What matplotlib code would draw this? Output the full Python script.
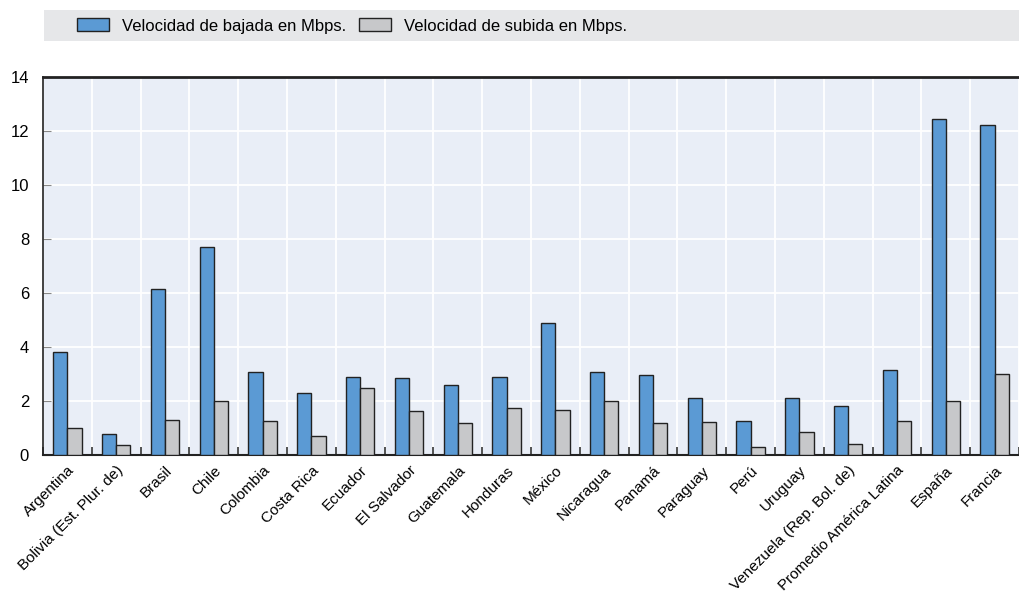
import matplotlib.pyplot as plt
import matplotlib.patches as mpatches
import numpy as np

paises = ["Argentina", "Bolivia (Est. Plur. de)", "Brasil", "Chile", "Colombia",
          "Costa Rica", "Ecuador", "El Salvador", "Guatemala", "Honduras",
          "México", "Nicaragua", "Panamá", "Paraguay", "Perú", "Uruguay",
          "Venezuela (Rep. Bol. de)", "Promedio América Latina", "España", "Francia"]
bajada = [3.82, 0.78, 6.16, 7.69, 3.08, 2.3, 2.9, 2.86, 2.6, 2.9,
          4.9, 3.08, 2.97, 2.12, 1.27, 2.12, 1.8, 3.14, 12.44, 12.22]
subida = [1.0, 0.37, 1.3, 2.0, 1.26, 0.7, 2.5, 1.63, 1.18, 1.75,
          1.67, 2.0, 1.2, 1.24, 0.3, 0.87, 0.4, 1.26, 2.0, 3.0]

plt.rcParams['font.family'] = ['Liberation Sans', 'DejaVu Sans']

azul = "#5b9ad4"
gris = "#c7c8ca"
borde = "#222222"

fig = plt.figure(figsize=(10.19, 5.94), dpi=100)
ax = fig.add_axes([43 / 1019, 1 - 455 / 594, (1019 - 43) / 1019, (455 - 77) / 594])

x = np.arange(len(paises))
w = 0.29
ax.bar(x - w / 2, bajada, w, color=azul, edgecolor=borde, linewidth=1, zorder=3)
ax.bar(x + w / 2, subida, w, color=gris, edgecolor=borde, linewidth=1, zorder=3)

ax.set_xlim(-0.5, len(paises) - 0.5)
ax.set_ylim(0, 14)
ax.set_yticks(range(0, 15, 2))
ax.set_facecolor("#e9eef7")

# lineas de cuadricula blancas en los limites de categoria
ax.set_xticks(np.arange(-0.5, len(paises)), minor=True)
ax.grid(True, axis="y", color="white", linewidth=1.3, zorder=0)
ax.grid(True, axis="x", which="minor", color="white", linewidth=1.3, zorder=0)
ax.set_xticks(x)
ax.set_xticklabels(paises, rotation=45, ha="right", rotation_mode="anchor", fontsize=11)
ax.tick_params(axis="x", which="major", length=0, pad=6)
ax.tick_params(axis="x", which="minor", direction="in", length=6, color="#444444", width=1.3)
ax.tick_params(axis="y", length=6, direction="in", color="#888888", labelsize=12, pad=10)

for lado in ["top", "bottom", "left"]:
    ax.spines[lado].set_color("#222222")
ax.spines["top"].set_linewidth(2)
ax.spines["bottom"].set_linewidth(1.5)
ax.spines["left"].set_linewidth(1.2)
ax.spines["right"].set_visible(False)

# banda de la leyenda
fig.patches.append(mpatches.Rectangle((44 / 1019, 1 - 41 / 594), (1019 - 44) / 1019, 31 / 594,
                                      transform=fig.transFigure, facecolor="#e6e7e9",
                                      edgecolor="none", zorder=0))
h1 = mpatches.Patch(facecolor=azul, edgecolor=borde, linewidth=1)
h2 = mpatches.Patch(facecolor=gris, edgecolor=borde, linewidth=1)
fig.legend([h1, h2], ["Velocidad de bajada en Mbps.", "Velocidad de subida en Mbps."],
           loc="center left", bbox_to_anchor=(62 / 1019, 1 - 26 / 594), ncol=2, frameon=False,
           fontsize=12, handlelength=1.9, handleheight=0.8, columnspacing=0.8, handletextpad=0.8)

fig.savefig("out.png", dpi=100)
